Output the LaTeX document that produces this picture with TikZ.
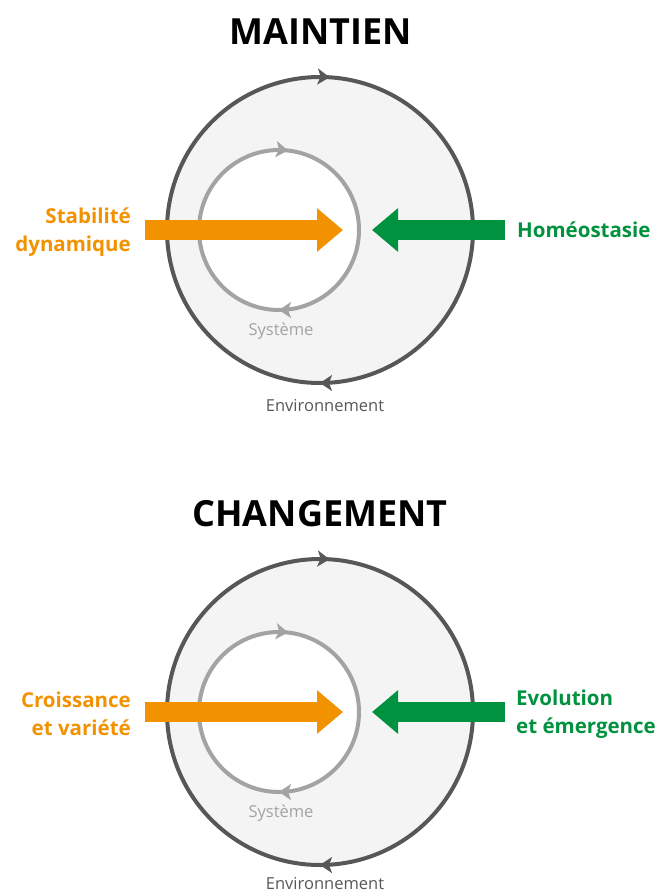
\documentclass[tikz,border=0pt]{standalone}
\usepackage{fontspec}
\setmainfont{Open Sans}
\usetikzlibrary{arrows.meta,decorations.markings}

\definecolor{envgray}{HTML}{575757}
\definecolor{sysgray}{HTML}{A3A3A3}
\definecolor{envfill}{HTML}{F4F4F4}
\definecolor{orangeA}{HTML}{F39200}
\definecolor{greenA}{HTML}{00923F}

\tikzset{
  cyctip/.tip={Stealth[length=12pt,width=16pt,inset=3pt]},
  cycmarks/.style={postaction={decorate,decoration={markings,
      mark=at position #1 with {\arrowreversed{cyctip}},
      mark=at position 0.75 with {\arrowreversed{cyctip}}}}},
  envcirc/.style={draw=envgray,line width=4,fill=envfill,cycmarks=0.24},
  syscirc/.style={draw=sysgray,line width=4,fill=white,cycmarks=0.232},
  bigarrow/.style={line width=20,-{Triangle[length=26pt,width=42pt]}},
  title/.style={font=\bfseries\fontsize{36}{40}\selectfont,inner sep=0pt},
  sidelabel/.style={font=\bfseries\fontsize{20.5}{28}\selectfont,inner sep=0pt},
  smalllabel/.style={font=\fontsize{16.5}{18}\selectfont,inner sep=0pt}
}

\begin{document}
\begin{tikzpicture}[x=1pt,y=1pt]
  \useasboundingbox (0,0) rectangle (657,-894);

  % maintien
  \node[title] (titleM) at (321,-32) {MAINTIEN};
  \coordinate (envM) at (320,-230);
  \coordinate (sysM) at (279,-230);
  \path[envcirc] (envM) circle (153);
  \path[syscirc] (sysM) circle (80);
  \coordinate (stabS) at (145,-230);
  \coordinate (stabE) at (343,-230);
  \coordinate (homeoS) at (505,-230);
  \coordinate (homeoE) at (372,-230);
  \draw[bigarrow,orangeA] (stabS) -- (stabE);
  \draw[bigarrow,greenA] (homeoS) -- (homeoE);
  \node[sidelabel,orangeA,align=right,anchor=east] (stabLab) at (131,-232) {Stabilité\\dynamique};
  \node[sidelabel,greenA,anchor=west] (homeoLab) at (517,-230) {Homéostasie};
  \node[smalllabel,sysgray] (sysLabM) at (281,-331) {Système};
  \node[smalllabel,envgray] (envLabM) at (325,-406) {Environnement};

  % changement
  \node[title] (titleC) at (320,-514) {CHANGEMENT};
  \coordinate (envC) at (320,-712);
  \coordinate (sysC) at (279,-712);
  \path[envcirc] (envC) circle (153);
  \path[syscirc] (sysC) circle (80);
  \coordinate (croisS) at (145,-712);
  \coordinate (croisE) at (343,-712);
  \coordinate (evolS) at (505,-712);
  \coordinate (evolE) at (372,-712);
  \draw[bigarrow,orangeA] (croisS) -- (croisE);
  \draw[bigarrow,greenA] (evolS) -- (evolE);
  \node[sidelabel,orangeA,align=right,anchor=east] (croisLab) at (131,-714) {Croissance\\et variété};
  \node[sidelabel,greenA,align=left,anchor=west] (evolLab) at (516,-714) {Evolution\\et émergence};
  \node[smalllabel,sysgray] (sysLabC) at (281,-813) {Système};
  \node[smalllabel,envgray] (envLabC) at (325,-884) {Environnement};
\end{tikzpicture}
\end{document}
